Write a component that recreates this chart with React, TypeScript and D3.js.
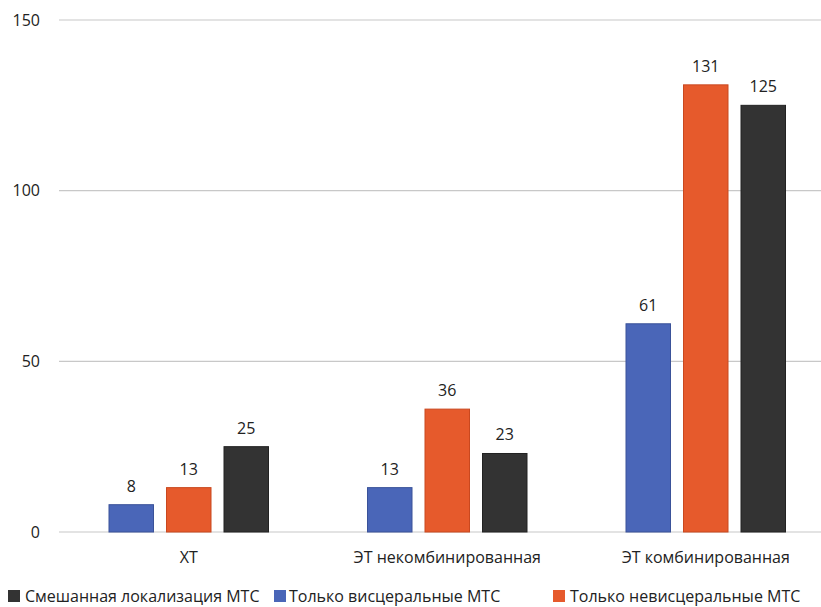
import React from "react";
import * as d3 from "d3";

const categories = ["ХТ", "ЭТ некомбинированная", "ЭТ комбинированная"];
const seriesNames = ["Только висцеральные МТС", "Только невисцеральные МТС", "Смешанная локализация МТС"];
const visceral = [8, 13, 61];
const nonVisceral = [13, 36, 131];
const mixed = [25, 23, 125];
const yTicks = [0, 50, 100, 150];

const colors = ["#4a66b8", "#e65a2c", "#333333"];
const strokes = ["#3a5299", "#c9481f", "#222222"];

const legendItems = [
  { name: seriesNames[2], color: colors[2], x: 8, tx: 25 },
  { name: seriesNames[0], color: colors[0], x: 274, tx: 289 },
  { name: seriesNames[1], color: colors[1], x: 553, tx: 570 },
];

export default function App() {
  const width = 821;
  const height = 607;
  const font = "'Open Sans', 'Noto Sans', sans-serif";
  const series = [visceral, nonVisceral, mixed];

  const x = d3.scaleBand<string>().domain(categories).range([59.5, 835]).paddingInner(0).paddingOuter(0);
  const y = d3.scaleLinear().domain([0, 150]).range([532, 20]);

  const barW = 44.5;
  const step = 57.5;

  return (
    <svg width={width} height={height} style={{ position: "absolute", left: 0, top: 0, background: "#fff" }}>
      {yTicks.map((t) => (
        <g key={t}>
          <line x1={59} x2={width} y1={y(t)} y2={y(t)} stroke="#c8c8c8" strokeWidth={1.2} />
          <text x={40} y={y(t)} dy="0.36em" textAnchor="end" fontFamily={font} fontSize={16} fill="#222">
            {t}
          </text>
        </g>
      ))}
      {categories.map((c, ci) => {
        const cx = (x(c) as number) + x.bandwidth() / 2;
        return (
          <g key={c}>
            {series.map((s, si) => {
              const bx = cx - step + si * step - barW / 2;
              const v = s[ci];
              return (
                <g key={si}>
                  <rect
                    x={bx}
                    y={y(v)}
                    width={barW}
                    height={y(0) - y(v)}
                    fill={colors[si]}
                    stroke={strokes[si]}
                    strokeWidth={1}
                  />
                  <text
                    x={bx + barW / 2}
                    y={y(v) - 13}
                    textAnchor="middle"
                    fontFamily={font}
                    fontSize={16}
                    fill="#222"
                  >
                    {v}
                  </text>
                </g>
              );
            })}
            <text x={cx} y={563} textAnchor="middle" fontFamily={font} fontSize={16} fill="#222">
              {c}
            </text>
          </g>
        );
      })}
      {legendItems.map((l) => (
        <g key={l.name}>
          <rect x={l.x} y={590} width={12} height={12} fill={l.color} />
          <text x={l.tx} y={602} fontFamily={font} fontSize={16} fill="#222">
            {l.name}
          </text>
        </g>
      ))}
    </svg>
  );
}
